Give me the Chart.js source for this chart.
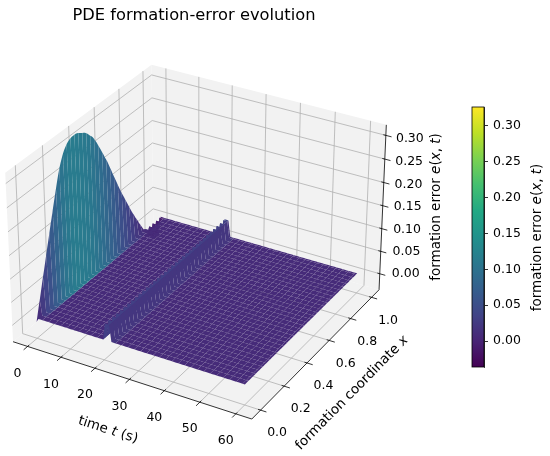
<!DOCTYPE html>
<html>
<head>
<meta charset="utf-8">
<script src="https://cdn.jsdelivr.net/npm/chart.js@4.4.1/dist/chart.umd.min.js"></script>
<style>
html,body{margin:0;padding:0;background:#fff;}
#wrap{position:relative;width:550px;height:456px;overflow:hidden;}
#mainBox{position:absolute;left:0;top:0;width:550px;height:456px;}
#cbarBox{position:absolute;left:460px;top:90px;width:90px;height:300px;}
</style>
</head>
<body>
<div id="wrap">
  <div id="mainBox"><canvas id="main"></canvas></div>
  <div id="cbarBox"><canvas id="cbar"></canvas></div>
</div>
<script>
// ---------------- data ----------------
const chartTitle = 'PDE formation-error evolution';
const timeTicks  = [0, 10, 20, 30, 40, 50, 60];
const coordTicks = [0.0, 0.2, 0.4, 0.6, 0.8, 1.0];
const errorTicks = [0.00, 0.05, 0.10, 0.15, 0.20, 0.25, 0.30];

const timeSamples = [0,0.6,1.2,1.8,2.4,3,3.6,4.2,4.8,5.4,6,6.6,7.2,7.8,8.4,9,9.6,10.2,10.8,11.4,
  12,12.6,13.2,13.8,14.4,15,15.6,16.2,16.8,17.4,18,18.6,19.2,19.8,20.4,21,21.6,22.2,22.8,23.4,
  24,24.6,25.2,25.8,26.4,27,27.6,28.2,28.8,29.4,30,30.6,31.2,31.8,32.4,33,33.6,34.2,34.8,35.4,
  36,36.6,37.2,37.8,38.4,39,39.6,40.2,40.8,41.4,42,42.6,43.2,43.8,44.4,45,45.6,46.2,46.8,47.4,
  48,48.6,49.2,49.8,50.4,51,51.6,52.2,52.8,53.4,54,54.6,55.2,55.8,56.4,57,57.6,58.2,58.8,59.4,60];
const coordSamples = [0,0.01,0.02,0.03,0.04,0.05,0.06,0.07,0.08,0.09,0.10,0.11,0.12,0.13,0.14,0.15,
  0.16,0.17,0.18,0.19,0.20,0.21,0.22,0.23,0.24,0.25,0.26,0.27,0.28,0.29,0.30,0.31,0.32,0.33,0.34,
  0.35,0.36,0.37,0.38,0.39,0.40,0.41,0.42,0.43,0.44,0.45,0.46,0.47,0.48,0.49,0.50,0.51,0.52,0.53,
  0.54,0.55,0.56,0.57,0.58,0.59,0.60,0.61,0.62,0.63,0.64,0.65,0.66,0.67,0.68,0.69,0.70,0.71,0.72,
  0.73,0.74,0.75,0.76,0.77,0.78,0.79,0.80,0.81,0.82,0.83,0.84,0.85,0.86,0.87,0.88,0.89,0.90,0.91,
  0.92,0.93,0.94,0.95,0.96,0.97,0.98,0.99,1.00];
// e(x, 0): initial formation error profile
const initialError = [0.000,0.014,0.028,0.041,0.055,0.069,0.083,0.096,0.110,0.124,0.138,0.151,0.165,
  0.179,0.192,0.206,0.219,0.232,0.245,0.258,0.270,0.281,0.290,0.298,0.305,0.311,0.315,0.319,0.322,
  0.324,0.325,0.326,0.326,0.326,0.326,0.325,0.324,0.322,0.320,0.318,0.316,0.314,0.311,0.308,0.304,
  0.300,0.297,0.293,0.287,0.281,0.275,0.268,0.261,0.254,0.247,0.240,0.232,0.225,0.218,0.210,0.201,
  0.193,0.184,0.176,0.168,0.160,0.151,0.143,0.135,0.127,0.120,0.113,0.105,0.098,0.091,0.083,0.076,
  0.069,0.062,0.056,0.049,0.043,0.037,0.030,0.024,0.018,0.012,0.006,0.000,-0.006,-0.011,-0.016,
  -0.020,-0.024,-0.027,-0.030,-0.032,-0.034,-0.035,-0.036,-0.036];
// disturbance ridge (short pulse around t = 21 s)
const ridgeTimes = [20.4, 21, 21.6];
const ridgeError = [0.044,0.044,0.044,0.044,0.044,0.044,0.044,0.044,0.044,0.044,0.044,0.044,0.044,
  0.044,0.044,0.044,0.044,0.044,0.044,0.044,0.044,0.044,0.044,0.044,0.044,0.044,0.044,0.044,0.044,
  0.044,0.044,0.044,0.044,0.044,0.044,0.044,0.044,0.044,0.044,0.044,0.044,0.044,0.044,0.044,0.044,
  0.044,0.044,0.044,0.044,0.044,0.044,0.044,0.044,0.044,0.044,0.044,0.044,0.044,0.044,0.044,0.044,
  0.044,0.044,0.044,0.044,0.044,0.044,0.044,0.044,0.044,0.044,0.044,0.044,0.044,0.044,0.044,0.044,
  0.044,0.044,0.044,0.044,0.044,0.044,0.044,0.044,0.044,0.044,0.044,0.044,0.044,0.044,0.044,0.044,
  0.044,0.044,0.044,0.044,0.044,0.044,0.044,0.044];
// residual error once the initial transient has died out
const settledError = 0.008;

// axis limits (pane extents)
const T_LO = -4.4, T_HI = 64.4;
const X_LO = -0.073, X_HI = 1.073;
const Z_LO = -0.036, Z_HI = 0.322;

// ---------------- surface grid ----------------
const errorGrid = timeSamples.map(t => {
  if (t === 0) return initialError.slice();
  if (ridgeTimes.includes(t)) return ridgeError.slice();
  return coordSamples.map(() => settledError);
});
let vmin = Infinity, vmax = -Infinity;
errorGrid.forEach(r => r.forEach(v => { if (v < vmin) vmin = v; if (v > vmax) vmax = v; }));

// ---------------- colormap (viridis) ----------------
const viridis = ['#440154','#482475','#414487','#355f8d','#2a788e','#21918c','#22a884','#44bf70','#7ad151','#bddf26','#fde725'];
const viridisRGB = viridis.map(h => [parseInt(h.substr(1,2),16), parseInt(h.substr(3,2),16), parseInt(h.substr(5,2),16)]);
function cmap(f) {
  f = Math.max(0, Math.min(1, f));
  const p = f * (viridisRGB.length - 1);
  const i = Math.min(viridisRGB.length - 2, Math.floor(p));
  const r = p - i, a = viridisRGB[i], b = viridisRGB[i + 1];
  return 'rgb(' + Math.round(a[0] + (b[0]-a[0])*r) + ',' + Math.round(a[1] + (b[1]-a[1])*r) + ',' + Math.round(a[2] + (b[2]-a[2])*r) + ')';
}

// ---------------- 3D view (matplotlib-like) ----------------
const VIEW_ELEV = 30, VIEW_AZIM = -60, VIEW_DIST = 10, FOCAL = 1;
const BOX_ASPECT = [4, 4, 3];
const Z_BOX_SCALE = 0.94;
const project = (function () {
  const n = Math.hypot(BOX_ASPECT[0], BOX_ASPECT[1], BOX_ASPECT[2]);
  const box = BOX_ASPECT.map(a => a * 1.8294640721620434 / n);
  box[2] *= Z_BOX_SCALE;
  const e = VIEW_ELEV * Math.PI / 180, az = VIEW_AZIM * Math.PI / 180;
  const w = [Math.cos(e) * Math.cos(az), Math.cos(e) * Math.sin(az), Math.sin(e)];
  let u = [-w[1], w[0], 0];
  const un = Math.hypot(u[0], u[1]); u = u.map(c => c / un);
  const v = [w[1]*u[2] - w[2]*u[1], w[2]*u[0] - w[0]*u[2], w[0]*u[1] - w[1]*u[0]];
  const dot = (a, b) => a[0]*b[0] + a[1]*b[1] + a[2]*b[2];
  return function (t, x, z) {
    const q = [(t - T_LO) / (T_HI - T_LO) * box[0] - box[0] / 2,
               (x - X_LO) / (X_HI - X_LO) * box[1] - box[1] / 2,
               (z - Z_LO) / (Z_HI - Z_LO) * box[2] - box[2] / 2];
    const D = VIEW_DIST - dot(w, q);
    return [FOCAL * dot(u, q) / D, FOCAL * dot(v, q) / D, D];
  };
})();

// viewing window of the projected plane (maps to the canvas)
const VIEW_U_MIN = -0.083354, VIEW_U_MAX = 0.146675;
const VIEW_V_MIN = -0.093057, VIEW_V_MAX = 0.097658;

const FONT = '"DejaVu Sans", "Liberation Sans", sans-serif';
function drawRich(ctx, parts, cx, cy, angleDeg, size) {
  ctx.save();
  ctx.translate(cx, cy);
  ctx.rotate(angleDeg * Math.PI / 180);
  const fonts = parts.map(p => (p.i ? 'italic ' : '') + size + 'px ' + FONT);
  const widths = parts.map((p, k) => { ctx.font = fonts[k]; return ctx.measureText(p.s).width; });
  const total = widths.reduce((a, b) => a + b, 0);
  let x = -total / 2;
  ctx.textBaseline = 'middle'; ctx.textAlign = 'left'; ctx.fillStyle = '#000';
  parts.forEach((p, k) => { ctx.font = fonts[k]; ctx.fillText(p.s, x, 0); x += widths[k]; });
  ctx.restore();
}
const errLabel = [{s: 'formation error '}, {s: 'e', i: true}, {s: '('}, {s: 'x', i: true}, {s: ', '}, {s: 't', i: true}, {s: ')'}];

const surfacePlugin = {
  id: 'surface3d',
  afterDraw(chart) {
    const ctx = chart.ctx;
    const sx = chart.scales.x, sy = chart.scales.y;
    const P = (t, x, z) => { const p = project(t, x, z); return [sx.getPixelForValue(p[0]), sy.getPixelForValue(p[1]), p[2]]; };
    const poly = (pts, fill) => {
      ctx.beginPath(); ctx.moveTo(pts[0][0], pts[0][1]);
      for (let k = 1; k < pts.length; k++) ctx.lineTo(pts[k][0], pts[k][1]);
      ctx.closePath(); ctx.fillStyle = fill; ctx.fill();
    };
    const line = (a, b, col, lw) => {
      ctx.beginPath(); ctx.moveTo(a[0], a[1]); ctx.lineTo(b[0], b[1]);
      ctx.strokeStyle = col; ctx.lineWidth = lw; ctx.stroke();
    };
    ctx.save();
    // panes
    const paneColor = '#f2f2f2';
    poly([P(T_LO, X_LO, Z_LO), P(T_HI, X_LO, Z_LO), P(T_HI, X_HI, Z_LO), P(T_LO, X_HI, Z_LO)], paneColor);
    poly([P(T_LO, X_LO, Z_LO), P(T_LO, X_HI, Z_LO), P(T_LO, X_HI, Z_HI), P(T_LO, X_LO, Z_HI)], paneColor);
    poly([P(T_LO, X_HI, Z_LO), P(T_HI, X_HI, Z_LO), P(T_HI, X_HI, Z_HI), P(T_LO, X_HI, Z_HI)], paneColor);
    // grid lines
    const gc = '#b0b0b0', gw = 0.8;
    timeTicks.forEach(t => {
      line(P(t, X_LO, Z_LO), P(t, X_HI, Z_LO), gc, gw);
      line(P(t, X_HI, Z_LO), P(t, X_HI, Z_HI), gc, gw);
    });
    coordTicks.forEach(x => {
      line(P(T_LO, x, Z_LO), P(T_HI, x, Z_LO), gc, gw);
      line(P(T_LO, x, Z_LO), P(T_LO, x, Z_HI), gc, gw);
    });
    errorTicks.forEach(z => {
      line(P(T_LO, X_LO, z), P(T_LO, X_HI, z), gc, gw);
      line(P(T_LO, X_HI, z), P(T_HI, X_HI, z), gc, gw);
    });
    // axis lines
    const ac = '#000', aw = 0.8;
    line(P(T_LO, X_LO, Z_LO), P(T_HI, X_LO, Z_LO), ac, aw);
    line(P(T_HI, X_LO, Z_LO), P(T_HI, X_HI, Z_LO), ac, aw);
    line(P(T_HI, X_HI, Z_LO), P(T_HI, X_HI, Z_HI), ac, aw);
    // ticks + tick labels
    ctx.fillStyle = '#000';
    ctx.font = '12.5px ' + FONT;
    ctx.textAlign = 'center'; ctx.textBaseline = 'middle';
    timeTicks.forEach(t => {
      line(P(t, X_LO - 0.03, Z_LO), P(t, X_LO + 0.012, Z_LO), ac, aw);
      const p = P(t, X_LO, Z_LO);
      ctx.fillText(String(t), p[0] - 10, p[1] + 27);
    });
    coordTicks.forEach(x => {
      line(P(T_HI + 1.6, x, Z_LO), P(T_HI - 0.7, x, Z_LO), ac, aw);
      const p = P(T_HI, x, Z_LO);
      ctx.fillText(x.toFixed(1), p[0] + 16.5, p[1] + 23);
    });
    errorTicks.forEach(z => {
      line(P(T_HI + 1.6, X_HI, z), P(T_HI - 0.7, X_HI, z), ac, aw);
      const p = P(T_HI, X_HI, z);
      ctx.fillText(z.toFixed(2), p[0] + 26 - 6.7 * z, p[1] + 10 * z);
    });
    // axis titles
    const a0 = P(T_LO, X_LO, Z_LO), a1 = P(T_HI, X_LO, Z_LO);
    const tAngle = Math.atan2(a1[1] - a0[1], a1[0] - a0[0]) * 180 / Math.PI;
    drawRich(ctx, [{s: 'time '}, {s: 't', i: true}, {s: ' (s)'}], 108, 430, tAngle, 13.5);
    const b0 = P(T_HI, X_LO, Z_LO), b1 = P(T_HI, X_HI, Z_LO);
    const xAngle = Math.atan2(b1[1] - b0[1], b1[0] - b0[0]) * 180 / Math.PI;
    drawRich(ctx, [{s: 'formation coordinate '}, {s: 'x', i: true}], 352, 393, xAngle, 13.5);
    drawRich(ctx, errLabel, 436, 207, -90, 13.5);
    // title
    ctx.font = '16.3px ' + FONT; ctx.textAlign = 'center'; ctx.textBaseline = 'alphabetic';
    ctx.fillText(chartTitle, 194, 20);

    // surface patches (matplotlib-style strides, painter's algorithm)
    const nr = timeSamples.length, nc = coordSamples.length;
    const rstride = Math.max(1, Math.ceil(nr / 50)), cstride = Math.max(1, Math.ceil(nc / 50));
    const rowInds = []; for (let i = 0; i < nr - 1; i += rstride) rowInds.push(i); rowInds.push(nr - 1);
    const colInds = []; for (let j = 0; j < nc - 1; j += cstride) colInds.push(j); colInds.push(nc - 1);
    const patches = [];
    for (let a = 0; a < rowInds.length - 1; a++) {
      for (let b = 0; b < colInds.length - 1; b++) {
        const r0 = rowInds[a], r1 = rowInds[a + 1], c0 = colInds[b], c1 = colInds[b + 1];
        const idx = [];
        for (let j = c0; j < c1; j++) idx.push([r0, j]);
        for (let i = r0; i < r1; i++) idx.push([i, c1]);
        for (let j = c1; j > c0; j--) idx.push([r1, j]);
        for (let i = r1; i > r0; i--) idx.push([i, c0]);
        const pts = idx.map(([i, j]) => P(timeSamples[i], coordSamples[j], errorGrid[i][j]));
        const avgZ = idx.reduce((s, [i, j]) => s + errorGrid[i][j], 0) / idx.length;
        const depth = pts.reduce((s, p) => s + p[2], 0) / pts.length;
        patches.push({pts, depth, col: cmap((avgZ - vmin) / (vmax - vmin))});
      }
    }
    patches.sort((p, q) => q.depth - p.depth);
    patches.forEach(p => poly(p.pts, p.col));
    ctx.restore();
  }
};

Chart.defaults.font.family = FONT;
new Chart(document.getElementById('main'), {
  type: 'scatter',
  data: { datasets: [] },
  options: {
    responsive: true, maintainAspectRatio: false, animation: false, events: [],
    layout: { padding: 0 },
    plugins: { legend: { display: false }, tooltip: { enabled: false }, title: { display: false } },
    scales: {
      x: { type: 'linear', min: VIEW_U_MIN, max: VIEW_U_MAX, display: false },
      y: { type: 'linear', min: VIEW_V_MIN, max: VIEW_V_MAX, display: false }
    }
  },
  plugins: [surfacePlugin]
});

// ---------------- colorbar ----------------
const cbarDecor = {
  id: 'cbarDecor',
  afterDraw(chart) {
    const ctx = chart.ctx, ca = chart.chartArea;
    ctx.save();
    ctx.strokeStyle = '#000'; ctx.lineWidth = 0.8;
    ctx.strokeRect(ca.left, ca.top, ca.right - ca.left, ca.bottom - ca.top);
    drawRich(ctx, errLabel, 77, 147.5, -90, 13.5);
    ctx.restore();
  }
};
new Chart(document.getElementById('cbar'), {
  type: 'bar',
  data: {
    labels: ['e'],
    datasets: [{
      data: [[vmin, vmax]],
      backgroundColor: (c) => {
        const ca = c.chart.chartArea;
        if (!ca) return viridis[0];
        const g = c.chart.ctx.createLinearGradient(0, ca.bottom, 0, ca.top);
        viridis.forEach((col, i) => g.addColorStop(i / (viridis.length - 1), col));
        return g;
      },
      borderWidth: 0, barPercentage: 1, categoryPercentage: 1, borderSkipped: false
    }]
  },
  options: {
    responsive: true, maintainAspectRatio: false, animation: false, events: [],
    layout: { padding: { left: 12, top: 17, bottom: 23, right: 0 } },
    plugins: { legend: { display: false }, tooltip: { enabled: false } },
    scales: {
      x: { display: false },
      y: {
        position: 'right', min: vmin, max: vmax,
        afterBuildTicks: s => { s.ticks = errorTicks.map(v => ({ value: v })); },
        afterFit: s => { s.width = 66; },
        ticks: { callback: v => Number(v).toFixed(2), font: { family: FONT, size: 12.5 }, color: '#000', padding: 5 },
        grid: { display: true, drawOnChartArea: false, drawTicks: true, tickLength: 4, color: '#000', lineWidth: 0.8 },
        border: { display: true, color: '#000', width: 0.8 }
      }
    }
  },
  plugins: [cbarDecor]
});
</script>
</body>
</html>
